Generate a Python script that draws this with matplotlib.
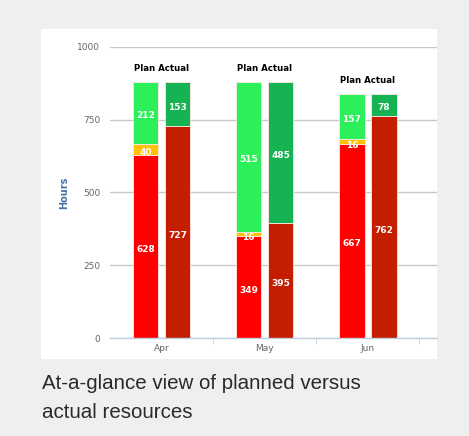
import matplotlib
matplotlib.use("Agg")
import matplotlib.pyplot as plt
from matplotlib.patches import Rectangle
import numpy as np

months = ["Apr", "May", "Jun"]
plan_red = [628, 349, 667]
plan_orange = [40, 16, 16]
plan_green = [212, 515, 157]
actual_red = [727, 395, 762]
actual_green = [153, 485, 78]
yticks = [0, 250, 500, 750, 1000]

W, H = 469, 436
fig = plt.figure(figsize=(W / 100, H / 100), dpi=100)
fig.patch.set_facecolor("#efefef")

def fx(px):
    return px / W

def fy(py):
    return 1 - py / H

# white panel
fig.patches.append(Rectangle((fx(41), fy(359)), fx(437) - fx(41), fy(29) - fy(359),
                             transform=fig.transFigure, facecolor="white",
                             edgecolor="none", zorder=-5))

ax = fig.add_axes([fx(110), fy(338), fx(437) - fx(110), fy(47) - fy(338)])
ax.set_zorder(2)
ax.set_facecolor("none")
ax.set_ylim(0, 1000)
ax.set_xlim(-0.5, 2.67)

x = np.arange(len(months))
bw = 0.245
off = 0.155

c_red = "#ff0000"
c_orange = "#ffc000"
c_lgreen = "#2cf05a"
c_dred = "#c41d00"
c_dgreen = "#16b352"
edge = dict(edgecolor="#ffe8e8", linewidth=0.6)

pr = np.array(plan_red)
po = np.array(plan_orange)
pg = np.array(plan_green)
ar = np.array(actual_red)
ag = np.array(actual_green)

ax.bar(x - off, pr, bw, color=c_red, zorder=3, **edge)
ax.bar(x - off, po, bw, bottom=pr, color=c_orange, zorder=3, **edge)
ax.bar(x - off, pg, bw, bottom=pr + po, color=c_lgreen, zorder=3, **edge)
ax.bar(x + off, ar, bw, color=c_dred, zorder=3, **edge)
ax.bar(x + off, ag, bw, bottom=ar, color=c_dgreen, zorder=3, **edge)

lab = dict(color="white", fontsize=6.5, fontweight="bold", ha="center",
           va="center", zorder=5, family="DejaVu Sans")
for i in range(len(months)):
    ax.text(x[i] - off, pr[i] / 2 - 10, str(pr[i]), **lab)
    ax.text(x[i] - off, pr[i] + po[i] / 2 - 12, str(po[i]), **lab)
    ax.text(x[i] - off, pr[i] + po[i] + pg[i] / 2 - 10, str(pg[i]), **lab)
    ax.text(x[i] + off, ar[i] / 2 - 10, str(ar[i]), **lab)
    ax.text(x[i] + off, ar[i] + ag[i] / 2 - 10, str(ag[i]), **lab)
    top = pr[i] + po[i] + pg[i]
    ax.text(x[i], top + 45, "Plan Actual", ha="center", va="center",
            fontsize=6.2, fontweight="bold", color="black", zorder=5,
            family="DejaVu Sans")

ax.set_yticks(yticks)
ax.set_yticklabels([str(v) for v in yticks])
ax.grid(axis="y", color="#c8c8c8", linewidth=1, zorder=1)
ax.set_axisbelow(True)
for s in ["top", "right", "left"]:
    ax.spines[s].set_visible(False)
ax.spines["bottom"].set_color("#c0d0e0")
ax.spines["bottom"].set_linewidth(1)
ax.spines["bottom"].set_zorder(4)
ax.tick_params(axis="y", length=0, pad=7, labelsize=6.5, labelcolor="#666666")
ax.set_xticks(x)
ax.set_xticklabels(months)
ax.tick_params(axis="x", length=0, pad=4, labelsize=6.5, labelcolor="#666666")
ax.set_xticks([0.5, 1.5, 2.5], minor=True)
ax.tick_params(axis="x", which="minor", length=4, color="#c0d0e0", direction="out")
ax.set_ylabel("Hours", color="#4572a7", fontsize=7, fontweight="bold", labelpad=6)

cap = dict(fontsize=14.8, color="#2a2a2a", family="Liberation Sans", va="center", ha="left")
fig.text(fx(42), fy(383), "At-a-glance view of planned versus", **cap)
fig.text(fx(42), fy(412), "actual resources", **cap)

fig.savefig("out.png", dpi=100, facecolor=fig.get_facecolor())
